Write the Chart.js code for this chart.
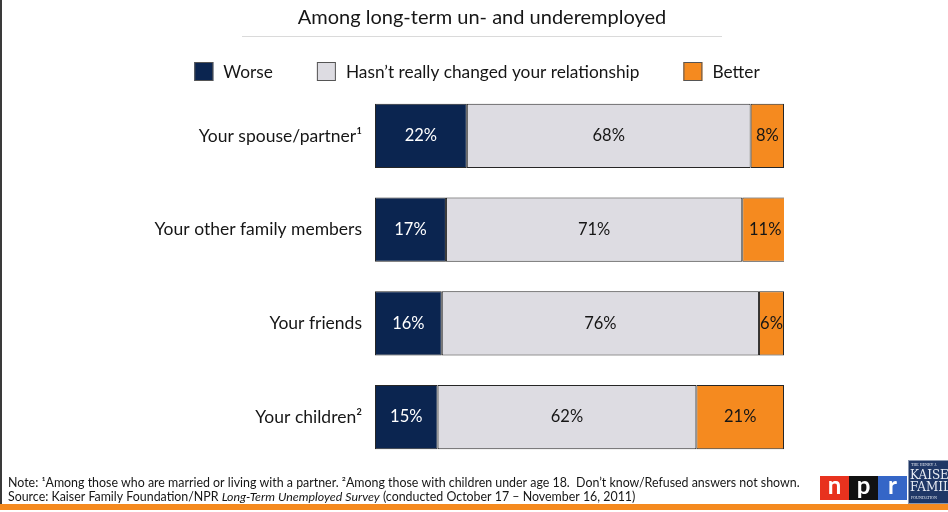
<!DOCTYPE html>
<html>
<head>
<meta charset="utf-8">
<script src="https://cdn.jsdelivr.net/npm/chart.js@4.4.0/dist/chart.umd.min.js"></script>
<style>
  html, body { margin: 0; padding: 0; background: #fff; }
  #wrap { width: 948px; height: 512px; }
</style>
</head>
<body>
<div id="wrap"><canvas id="chart" width="948" height="512"></canvas></div>
<script>
// survey answers, percent of respondents
const categories = ['Your spouse/partner\u00B9', 'Your other family members', 'Your friends', 'Your children\u00B2'];
const worse = [22, 17, 16, 15];
const unchanged = [68, 71, 76, 62];
const better = [8, 11, 6, 21];
const seriesNames = ['Worse', 'Hasn\u2019t really changed your relationship', 'Better'];

const title = 'Among long-term un- and underemployed';
const noteLine = 'Note: \u00B9Among those who are married or living with a partner. \u00B2Among those with children under age 18.  Don\u2019t know/Refused answers not shown.';
const sourceParts = [
  ['Source: Kaiser Family Foundation/NPR ', false],
  ['Long-Term Unemployed Survey', true],
  [' (conducted October 17 \u2013 November 16, 2011)', false]
];

const FONT = 'Lato, "Open Sans", sans-serif';
const colors = ['#0b2550', '#dddce2', '#f58a1f'];
const labelColors = ['#ffffff', '#161616', '#161616'];

// title, legend, notes and logos around the plot
const framePlugin = {
  id: 'frame',
  beforeDraw(chart) {
    const ctx = chart.ctx;
    ctx.save();
    ctx.fillStyle = '#fff';
    ctx.fillRect(0, 0, chart.width, chart.height);

    // left rule and orange footer band
    ctx.fillStyle = '#3a3a3a';
    ctx.fillRect(0, 0, 2, 505);
    ctx.fillStyle = '#f58a1f';
    ctx.fillRect(0, 504, chart.width, 6);

    // title with thin underline
    ctx.fillStyle = '#161616';
    ctx.font = '20px ' + FONT;
    ctx.textAlign = 'center';
    ctx.textBaseline = 'middle';
    ctx.fillText(title, 482, 18);
    ctx.strokeStyle = '#dadada';
    ctx.lineWidth = 1;
    ctx.beginPath();
    ctx.moveTo(242, 36.5);
    ctx.lineTo(722, 36.5);
    ctx.stroke();

    // legend
    ctx.font = '17.3px ' + FONT;
    ctx.textAlign = 'left';
    const box = 19, boxGap = 10, itemGap = 44;
    const ds = chart.data.datasets;
    const widths = ds.map(d => box + boxGap + ctx.measureText(d.label).width);
    const total = widths.reduce((a, b) => a + b, 0) + itemGap * (ds.length - 1);
    let lx = 477 - total / 2;
    ds.forEach((d, i) => {
      ctx.fillStyle = d.backgroundColor;
      ctx.fillRect(lx, 62, box, box);
      ctx.strokeStyle = '#555';
      ctx.lineWidth = 1;
      ctx.strokeRect(lx + 0.5, 62.5, box - 1, box - 1);
      ctx.fillStyle = '#161616';
      ctx.fillText(d.label, lx + box + boxGap, 72);
      lx += widths[i] + itemGap;
    });

    // footnotes
    ctx.font = '12.4px ' + FONT;
    ctx.fillStyle = '#161616';
    ctx.fillText(noteLine, 8, 483);
    let sx = 8;
    sourceParts.forEach(([txt, italic]) => {
      ctx.font = (italic ? 'italic ' : '') + '12.4px ' + FONT;
      ctx.fillText(txt, sx, 497);
      sx += ctx.measureText(txt).width;
    });

    // npr blocks
    const npr = [['n', '#e8321e'], ['p', '#111111'], ['r', '#3566c7']];
    ctx.font = 'bold 24px ' + FONT;
    ctx.textAlign = 'center';
    npr.forEach(([ch, c], i) => {
      const bx = 820 + i * 29;
      ctx.fillStyle = c;
      ctx.fillRect(bx, 476, 29, 24);
      ctx.fillStyle = '#fff';
      ctx.fillText(ch, bx + 14.5, 486);
    });

    // foundation badge, cut at the right edge
    ctx.fillStyle = '#1f3766';
    ctx.fillRect(908, 460, 40, 44);
    ctx.strokeStyle = '#8a97b0';
    ctx.strokeRect(908.5, 460.5, 45, 43);
    ctx.fillStyle = '#e8ecf4';
    ctx.textAlign = 'left';
    ctx.font = '4px serif';
    ctx.fillText('THE HENRY J.', 911, 465);
    ctx.font = '12px "DejaVu Serif", serif';
    ctx.fillText('KAISER', 910, 476);
    ctx.fillText('FAMILY', 910, 488);
    ctx.font = '4px serif';
    ctx.fillText('FOUNDATION', 911, 498);
    ctx.restore();
  }
};

// value text centred in every segment
const segmentLabels = {
  id: 'segmentLabels',
  afterDatasetsDraw(chart) {
    const ctx = chart.ctx;
    ctx.save();
    ctx.font = '16.5px ' + FONT;
    ctx.textAlign = 'center';
    ctx.textBaseline = 'middle';
    chart.data.datasets.forEach((d, i) => {
      chart.getDatasetMeta(i).data.forEach((bar, j) => {
        ctx.fillStyle = labelColors[i];
        ctx.fillText(d.data[j] + '%', (bar.x + bar.base) / 2, bar.y);
      });
    });
    ctx.restore();
  }
};

const series = [worse, unchanged, better];

new Chart(document.getElementById('chart'), {
  type: 'bar',
  data: {
    labels: categories,
    datasets: series.map((vals, i) => ({
      label: seriesNames[i],
      data: vals,
      backgroundColor: colors[i],
      borderColor: '#262626',
      borderWidth: 1,
      borderSkipped: false,
      categoryPercentage: 1,
      barPercentage: 0.683
    }))
  },
  options: {
    indexAxis: 'y',
    responsive: false,
    animation: false,
    devicePixelRatio: 1,
    layout: { padding: { top: 89, bottom: 48, left: 0, right: 164 } },
    plugins: {
      legend: { display: false },
      tooltip: { enabled: false },
      title: { display: false }
    },
    scales: {
      x: {
        stacked: true,
        display: false,
        min: 0,
        max: 98
      },
      y: {
        stacked: true,
        grid: { display: false, drawTicks: false },
        border: { display: false },
        ticks: {
          padding: 13,
          color: '#161616',
          font: { family: FONT, size: 17.5 }
        },
        afterFit(scale) { scale.width = 375; }
      }
    }
  },
  plugins: [framePlugin, segmentLabels]
});
</script>
</body>
</html>
